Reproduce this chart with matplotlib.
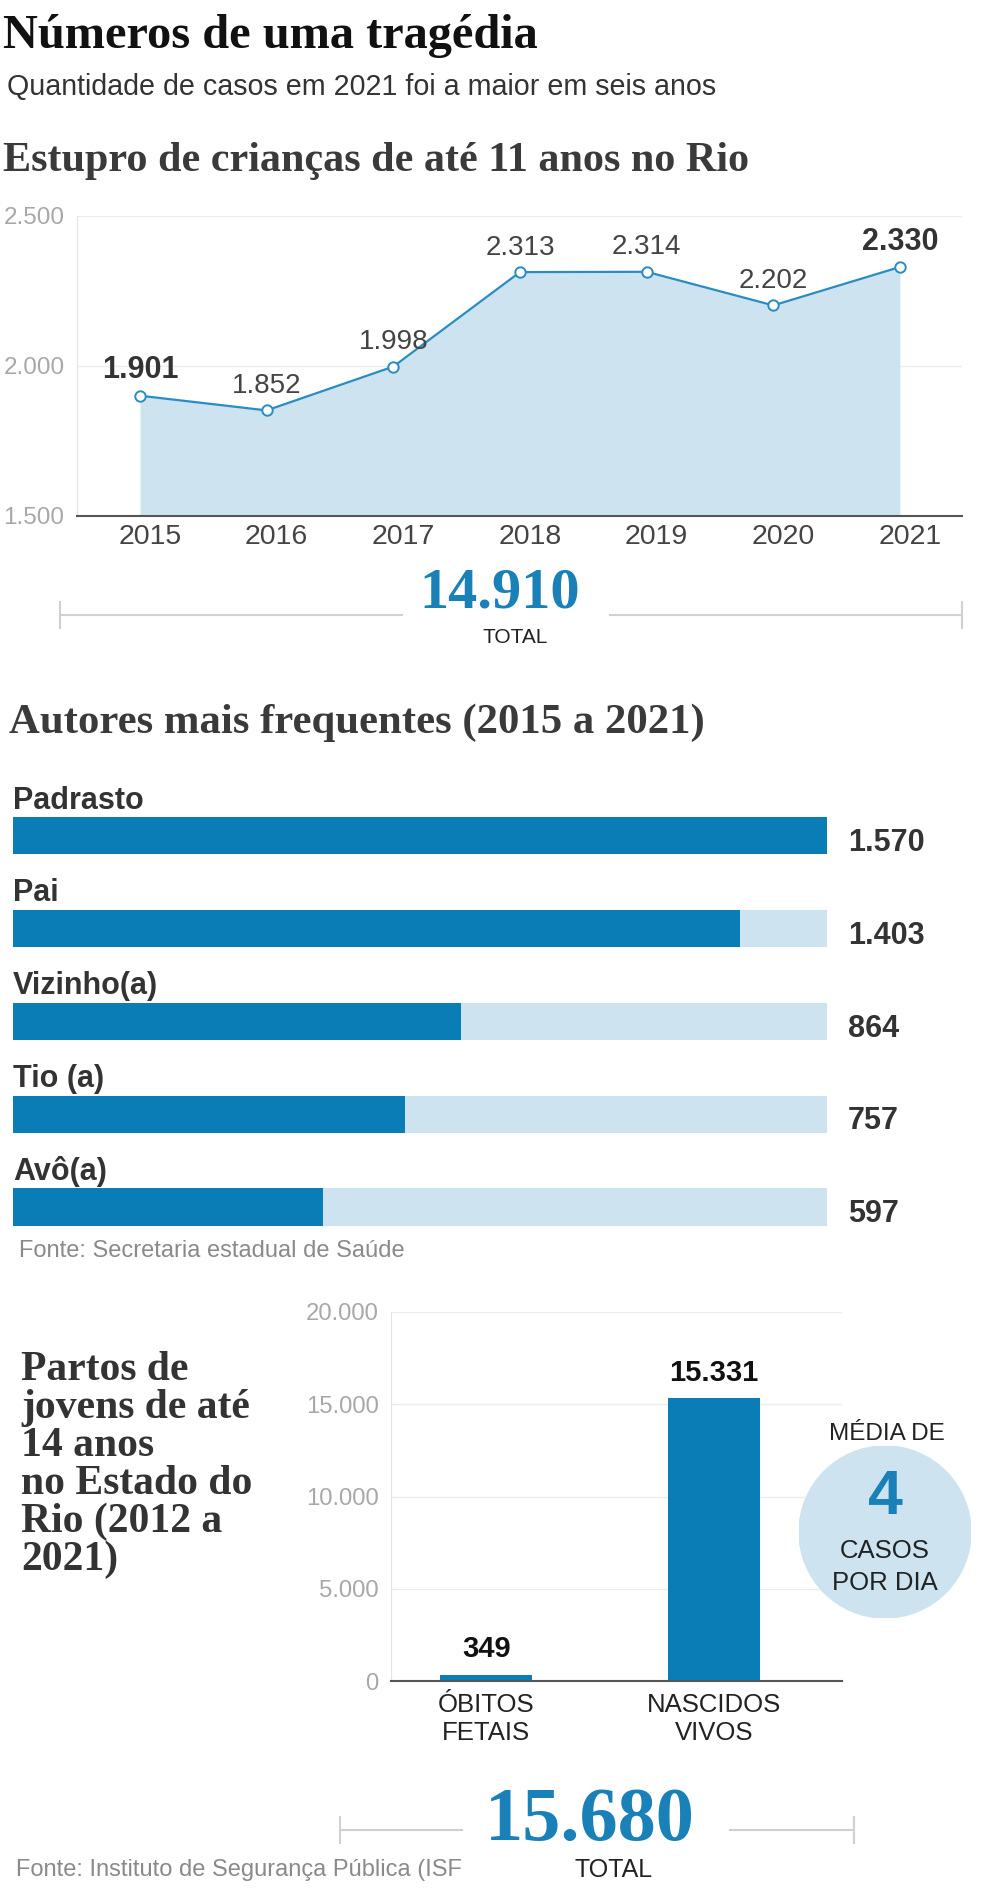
import matplotlib
matplotlib.use('Agg')
import matplotlib.pyplot as plt
from matplotlib.lines import Line2D
from matplotlib.patches import Circle
from matplotlib.transforms import ScaledTranslation

plt.rcParams['font.family'] = ['Liberation Sans', 'DejaVu Sans']
SERIF = ['Liberation Serif', 'DejaVu Serif']

# dados
anos = [2015, 2016, 2017, 2018, 2019, 2020, 2021]
casos = [1901, 1852, 1998, 2313, 2314, 2202, 2330]
total_casos = 14910

autores = ['Padrasto', 'Pai', 'Vizinho(a)', 'Tio (a)', 'Avô(a)']
autores_vals = [1570, 1403, 864, 757, 597]

partos_cats = ['ÓBITOS\nFETAIS', 'NASCIDOS\nVIVOS']
partos_vals = [349, 15331]
total_partos = 15680
media_dia = 4

DARK = '#0b7db6'
LIGHT = '#cde4f0'
LINE = '#2a8cc3'
BLUE_TXT = '#1a80b8'
TXT = '#333333'
GRAY = '#a8a8a8'

W, H = 984, 1897


def fx(x):
    return x / W


def fy(y):
    return 1 - y / H


def rect(l, t, r, b):
    return [l / W, 1 - b / H, (r - l) / W, (b - t) / H]


def fmt(v):
    return f'{v:,}'.replace(',', '.')


def hline(x0, x1, y, tick=13):
    fig.add_artist(Line2D([fx(x0), fx(x1)], [fy(y), fy(y)], color='#d0d0d0', lw=1.5))
    for xx in (x0, x1):
        if xx in ends:
            fig.add_artist(Line2D([fx(xx), fx(xx)], [fy(y - tick), fy(y + tick)], color='#d0d0d0', lw=1.5))


fig = plt.figure(figsize=(9.84, 18.97), dpi=100)

# titulos
fig.text(fx(3), fy(48), 'Números de uma tragédia', family=SERIF, fontweight='bold',
         fontsize=34.8, color='#111111', va='baseline')
fig.text(fx(7), fy(95), 'Quantidade de casos em 2021 foi a maior em seis anos',
         fontsize=20.6, color=TXT, va='baseline')
fig.text(fx(3), fy(171), 'Estupro de crianças de até 11 anos no Rio', family=SERIF,
         fontweight='bold', fontsize=30.3, color='#3a3a3a', va='baseline')

# grafico 1 - linha
ax1 = fig.add_axes(rect(77, 216, 962, 516))
ax1.fill_between(anos, casos, 1500, color=LIGHT, lw=0)
ax1.plot(anos, casos, color=LINE, lw=1.6, marker='o', ms=7.5, mfc='white', mec=LINE,
         mew=1.4, zorder=3, clip_on=False)
ax1.set_xlim(2014.503, 2021.49)
ax1.set_ylim(1500, 2500)
ax1.set_yticks([1500, 2000, 2500])
ax1.set_yticklabels([fmt(v) for v in [1500, 2000, 2500]])
ax1.set_xticks(anos)
ax1.tick_params(axis='y', length=0, pad=9, labelsize=17.5, labelcolor=GRAY)
ax1.tick_params(axis='x', length=0, pad=6, labelsize=20.5, labelcolor='#444444')
for lbl in ax1.get_xticklabels():
    lbl.set_transform(lbl.get_transform() + ScaledTranslation(0.1, 0, fig.dpi_scale_trans))
ax1.grid(axis='y', color='#ececec', lw=1)
ax1.set_axisbelow(True)
for s in ['top', 'right']:
    ax1.spines[s].set_visible(False)
ax1.spines['left'].set_color('#e4e4e4')
ax1.spines['bottom'].set_color('#555555')
ax1.spines['bottom'].set_linewidth(1.5)
for i, (a, v) in enumerate(zip(anos, casos)):
    destaque = i in (0, len(anos) - 1)
    ax1.annotate(fmt(v), (a, v), xytext=(0, 12.6), textcoords='offset points',
                 ha='center', va='baseline', fontsize=22 if destaque else 20,
                 fontweight='bold' if destaque else 'normal',
                 color='#333333' if destaque else '#444444')

ends = (60, 962)
hline(60, 402, 615)
hline(610, 962, 615)
fig.text(fx(500), fy(608), fmt(total_casos), family=SERIF, fontweight='bold', fontsize=42,
         color=BLUE_TXT, ha='center', va='baseline')
fig.text(fx(515), fy(643), 'TOTAL', fontsize=15, color='#222222', ha='center', va='baseline')

# grafico 2 - barras horizontais
fig.text(fx(9), fy(733), 'Autores mais frequentes (2015 a 2021)', family=SERIF,
         fontweight='bold', fontsize=30.8, color='#3a3a3a', va='baseline')
ax2 = fig.add_axes(rect(13, 789, 827, 1253.5))
pos = list(range(len(autores)))
vmax = max(autores_vals)
ax2.barh(pos, [vmax] * len(autores), height=0.4, color=LIGHT)
ax2.barh(pos, autores_vals, height=0.4, color=DARK)
ax2.set_xlim(0, vmax)
ax2.set_ylim(len(autores) - 0.5, -0.5)
ax2.axis('off')
for i, (nome, v) in enumerate(zip(autores, autores_vals)):
    ax2.text(0, i - 0.29, nome, fontsize=22, fontweight='bold', color=TXT, va='baseline')
    ax2.annotate(fmt(v), (vmax, i), xytext=(15, -11), textcoords='offset points',
                 fontsize=22, fontweight='bold', color=TXT, va='baseline', ha='left',
                 annotation_clip=False)
fig.text(fx(19), fy(1257), 'Fonte: Secretaria estadual de Saúde', fontsize=17,
         color='#8a8a8a', va='baseline')

# grafico 3 - partos
linhas = ['Partos de', 'jovens de até', '14 anos', 'no Estado do', 'Rio (2012 a', '2021)']
for k, t in enumerate(linhas):
    fig.text(fx(21), fy(1380 + 38 * k), t, family=SERIF, fontweight='bold', fontsize=30,
             color='#333333', va='baseline')

ax3 = fig.add_axes(rect(391, 1312, 842, 1681))
ax3.bar(range(len(partos_vals)), partos_vals, width=0.4, color=DARK)
ax3.set_xlim(-0.417, 1.561)
ax3.set_ylim(0, 20000)
yt = [0, 5000, 10000, 15000, 20000]
ax3.set_yticks(yt)
ax3.set_yticklabels([fmt(v) for v in yt])
ax3.set_xticks(range(len(partos_cats)))
ax3.set_xticklabels(partos_cats)
ax3.tick_params(axis='y', length=0, pad=9, labelsize=17.2, labelcolor=GRAY)
ax3.tick_params(axis='x', length=0, pad=9, labelsize=18.5, labelcolor='#222222')
ax3.grid(axis='y', color='#ececec', lw=1)
ax3.set_axisbelow(True)
for s in ['top', 'right']:
    ax3.spines[s].set_visible(False)
ax3.spines['left'].set_color('#e4e4e4')
ax3.spines['bottom'].set_color('#555555')
ax3.spines['bottom'].set_linewidth(1.5)
for i, v in enumerate(partos_vals):
    ax3.annotate(fmt(v), (i, v), xytext=(0, 12.5), textcoords='offset points', ha='center',
                 va='baseline', fontsize=21, fontweight='bold', color='#111111')

# circulo
ax4 = fig.add_axes(rect(799, 1446, 971, 1618))
ax4.add_patch(Circle((0, 0), 1, color=LIGHT))
ax4.set_xlim(-1, 1)
ax4.set_ylim(-1, 1)
ax4.axis('off')
fig.text(fx(887), fy(1440), 'MÉDIA DE', fontsize=17.5, color='#222222', ha='center', va='baseline')
fig.text(fx(885), fy(1514), str(media_dia), fontsize=45, fontweight='bold', color=BLUE_TXT,
         ha='center', va='baseline')
fig.text(fx(885), fy(1558), 'CASOS', fontsize=18.5, color='#222222', ha='center', va='baseline')
fig.text(fx(885), fy(1590), 'POR DIA', fontsize=18.5, color='#222222', ha='center', va='baseline')

ends = (340, 854)
hline(340, 462, 1830)
hline(730, 854, 1830)
fig.text(fx(590), fy(1840), fmt(total_partos), family=SERIF, fontweight='bold', fontsize=55,
         color=BLUE_TXT, ha='center', va='baseline')
fig.text(fx(614), fy(1877), 'TOTAL', fontsize=18, color='#222222', ha='center', va='baseline')
fig.text(fx(16), fy(1876), 'Fonte: Instituto de Segurança Pública (ISF', fontsize=17,
         color='#8a8a8a', va='baseline')

fig.savefig('out.png', dpi=100)
